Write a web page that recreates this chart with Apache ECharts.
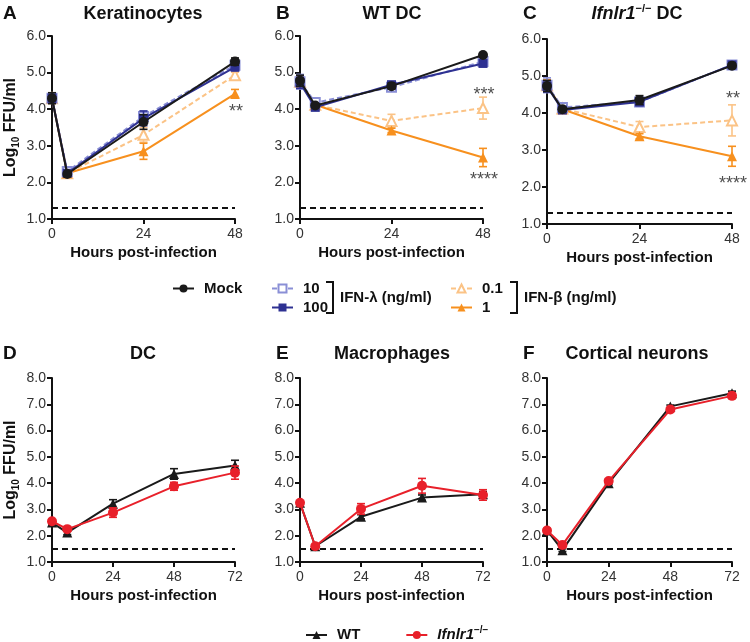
<!DOCTYPE html>
<html><head><meta charset="utf-8">
<script src="https://cdn.jsdelivr.net/npm/echarts@6/dist/echarts.min.js"></script>
<style>html,body{margin:0;padding:0;background:#fff}#c{width:750px;height:642px}</style>
</head><body><div id="c"></div>
<script>
// ---------- DATA ----------
const xRow1 = [0, 4, 24, 48];
const xRow2 = [0, 6, 24, 48, 72];
const yRange1 = [1, 6];
const yRange2 = [1, 8];
const xMax1 = 48, xMax2 = 72, xStep = 24;
const lod1 = 1.3, lod2 = 1.5;

const titlesTop = ['Keratinocytes', 'WT DC', 'Ifnlr1−/− DC'];
const titlesBottom = ['DC', 'Macrophages', 'Cortical neurons'];
const panelLetters = ['A', 'B', 'C', 'D', 'E', 'F'];

// Panel A – Keratinocytes
const aMock = [4.30, 2.23, 3.65, 5.30];   const aMockErr = [0.15, 0.04, 0.20, 0.10];
const aL10 = [4.30, 2.30, 3.80, 5.20];    const aL10Err = [0.10, 0.04, 0.15, 0.10];
const aL100 = [4.30, 2.25, 3.75, 5.15];   const aL100Err = [0.10, 0.04, 0.20, 0.10];
const aB01 = [4.30, 2.25, 3.30, 4.93];    const aB01Err = [0.10, 0.04, 0.20, 0.08];
const aB1 = [4.30, 2.25, 2.85, 4.42];     const aB1Err = [0.10, 0.04, 0.22, 0.12];
const aStars = [[48, 4.03, '**']];

// Panel B – WT DC
const bMock = [4.78, 4.10, 4.63, 5.48];   const bMockErr = [0.15, 0.05, 0.08, 0.05];
const bL10 = [4.75, 4.18, 4.60, 5.30];    const bL10Err = [0.20, 0.05, 0.08, 0.08];
const bL100 = [4.72, 4.05, 4.67, 5.25];   const bL100Err = [0.15, 0.05, 0.08, 0.06];
const bB01 = [4.75, 4.12, 3.68, 4.03];    const bB01Err = [0.15, 0.05, 0.18, 0.30];
const bB1 = [4.75, 4.12, 3.42, 2.68];     const bB1Err = [0.15, 0.05, 0.06, 0.25];
const bStars = [[48, 4.50, '***'], [48, 2.17, '****']];

// Panel C – Ifnlr1-/- DC
const cMock = [4.73, 4.10, 4.35, 5.28];   const cMockErr = [0.15, 0.05, 0.12, 0.06];
const cL10 = [4.75, 4.15, 4.30, 5.30];    const cL10Err = [0.20, 0.05, 0.12, 0.06];
const cL100 = [4.72, 4.08, 4.30, 5.30];   const cL100Err = [0.15, 0.05, 0.10, 0.06];
const cB01 = [4.75, 4.12, 3.62, 3.80];    const cB01Err = [0.15, 0.05, 0.15, 0.42];
const cB1 = [4.75, 4.10, 3.37, 2.83];     const cB1Err = [0.15, 0.05, 0.07, 0.27];
const cStars = [[48, 4.49, '**'], [48, 2.19, '****']];

// Panel D – DC
const dWT = [2.50, 2.12, 3.22, 4.35, 4.67]; const dWTErr = [0.05, 0.08, 0.15, 0.20, 0.20];
const dKO = [2.55, 2.25, 2.88, 3.88, 4.40]; const dKOErr = [0.05, 0.08, 0.18, 0.15, 0.25];
// Panel E – Macrophages
const eWT = [3.25, 1.60, 2.72, 3.45, 3.58]; const eWTErr = [0.05, 0.05, 0.08, 0.10, 0.10];
const eKO = [3.25, 1.60, 3.02, 3.90, 3.55]; const eKOErr = [0.05, 0.05, 0.20, 0.28, 0.20];
// Panel F – Cortical neurons
const fWT = [2.20, 1.45, 4.00, 6.92, 7.42]; const fWTErr = [0.05, 0.05, 0.05, 0.05, 0.08];
const fKO = [2.20, 1.65, 4.08, 6.80, 7.32]; const fKOErr = [0.08, 0.10, 0.08, 0.08, 0.10];

// ---------- STYLES ----------
const FONT = 'Liberation Sans, Arial, Helvetica, sans-serif';
const styles = {
  'Mock':   {symbol: 'circle', size: 10, color: '#1a1a1a', dash: 'solid'},
  '10':     {symbol: 'emptyRect', size: 9, color: '#8a8fd6', dash: [5, 3]},
  '100':    {symbol: 'rect', size: 9, color: '#2e3192', dash: 'solid'},
  '0.1':    {symbol: 'emptyTriangle', size: 10, color: '#fbc386', dash: [5, 3]},
  '1':      {symbol: 'triangle', size: 10, color: '#f7901e', dash: 'solid'},
  'WT':     {symbol: 'triangle', size: 10, color: '#1a1a1a', dash: 'solid'},
  'Ifnlr1': {symbol: 'circle', size: 10, color: '#e8202a', dash: 'solid'}
};
const grids = [
  {left: 51, top: 36, width: 184, height: 183},
  {left: 300, top: 36, width: 183, height: 183},
  {left: 547, top: 39, width: 185, height: 185},
  {left: 51, top: 378, width: 184, height: 184},
  {left: 300, top: 378, width: 183, height: 184},
  {left: 547, top: 378, width: 185, height: 184}
];

function lineSeries(name, gi, xs, ys, z) {
  const st = styles[name];
  const empty = String(st.symbol).indexOf('empty') === 0;
  return {
    type: 'line', name, xAxisIndex: gi, yAxisIndex: gi, z: z,
    data: xs.map((x, i) => [x, ys[i]]),
    symbol: st.symbol, symbolSize: st.size, showSymbol: true,
    itemStyle: {color: st.color, borderColor: st.color, borderWidth: empty ? 1.6 : 0},
    lineStyle: {color: st.color, width: 2, type: st.dash},
    emphasis: {disabled: true}
  };
}
function errSeries(gi, xs, ys, es, color, z) {
  return {
    type: 'custom', name: 'err', xAxisIndex: gi, yAxisIndex: gi, z: z,
    data: xs.map((x, i) => [x, ys[i] - es[i], ys[i] + es[i]]),
    encode: {x: 0, y: [1, 2]},
    renderItem: function (params, api) {
      const x = api.value(0);
      const lo = api.coord([x, api.value(1)]);
      const hi = api.coord([x, api.value(2)]);
      const w = 4;
      const st = {stroke: color, lineWidth: 1.6};
      return {type: 'group', children: [
        {type: 'line', shape: {x1: lo[0], y1: lo[1], x2: hi[0], y2: hi[1]}, style: st},
        {type: 'line', shape: {x1: lo[0] - w, y1: lo[1], x2: lo[0] + w, y2: lo[1]}, style: st},
        {type: 'line', shape: {x1: hi[0] - w, y1: hi[1], x2: hi[0] + w, y2: hi[1]}, style: st}
      ]};
    }
  };
}
function lodLine(gi, val) {
  return {
    type: 'line', name: 'lod', xAxisIndex: gi, yAxisIndex: gi, data: [], z: 1,
    markLine: {silent: true, symbol: 'none', animation: false,
      data: [{yAxis: val}], label: {show: false},
      lineStyle: {color: '#111', type: [6, 4], width: 2}}
  };
}
function starSeries(gi, stars) {
  return {
    type: 'scatter', name: 'sig', xAxisIndex: gi, yAxisIndex: gi, z: 10,
    symbolSize: 1, itemStyle: {color: 'rgba(0,0,0,0)'},
    data: stars.map(s => ({value: [s[0], s[1]], name: s[2]})),
    label: {show: true, position: 'inside', offset: [1, 4], formatter: '{b}', fontSize: 18, color: '#222', fontFamily: FONT}
  };
}

const series = [];
function topPanel(gi, d, stars) {
  series.push(lodLine(gi, lod1));
  const order = [['0.1', d.b01, d.b01e], ['1', d.b1, d.b1e], ['10', d.l10, d.l10e], ['100', d.l100, d.l100e], ['Mock', d.m, d.me]];
  order.forEach((o, k) => {
    series.push(errSeries(gi, xRow1, o[1], o[2], styles[o[0]].color, 2 + k * 2));
    series.push(lineSeries(o[0], gi, xRow1, o[1], 3 + k * 2));
  });
  series.push(starSeries(gi, stars));
}
function bottomPanel(gi, wt, wte, ko, koe) {
  series.push(lodLine(gi, lod2));
  series.push(errSeries(gi, xRow2, wt, wte, styles['WT'].color, 2));
  series.push(lineSeries('WT', gi, xRow2, wt, 3));
  series.push(errSeries(gi, xRow2, ko, koe, styles['Ifnlr1'].color, 4));
  series.push(lineSeries('Ifnlr1', gi, xRow2, ko, 5));
}
topPanel(0, {m: aMock, me: aMockErr, l10: aL10, l10e: aL10Err, l100: aL100, l100e: aL100Err, b01: aB01, b01e: aB01Err, b1: aB1, b1e: aB1Err}, aStars);
topPanel(1, {m: bMock, me: bMockErr, l10: bL10, l10e: bL10Err, l100: bL100, l100e: bL100Err, b01: bB01, b01e: bB01Err, b1: bB1, b1e: bB1Err}, bStars);
topPanel(2, {m: cMock, me: cMockErr, l10: cL10, l10e: cL10Err, l100: cL100, l100e: cL100Err, b01: cB01, b01e: cB01Err, b1: cB1, b1e: cB1Err}, cStars);
bottomPanel(3, dWT, dWTErr, dKO, dKOErr);
bottomPanel(4, eWT, eWTErr, eKO, eKOErr);
bottomPanel(5, fWT, fWTErr, fKO, fKOErr);

const axisLine = {show: true, lineStyle: {color: '#111', width: 2}};
const axisTick = {show: true, length: 5, lineStyle: {color: '#111', width: 2}};
const axisLabel = {color: '#333', fontSize: 14, fontFamily: FONT};

const xAxes = grids.map((g, i) => ({
  gridIndex: i, type: 'value', min: 0, max: i < 3 ? xMax1 : xMax2, interval: xStep,
  axisLine, axisTick, axisLabel: Object.assign({margin: 8}, axisLabel), splitLine: {show: false},
  name: 'Hours post-infection', nameLocation: 'middle', nameGap: 26,
  nameTextStyle: {fontSize: 15, fontWeight: 'bold', color: '#111', fontFamily: FONT}
}));
const yAxes = grids.map((g, i) => {
  const r = i < 3 ? yRange1 : yRange2;
  const ax = {
    gridIndex: i, type: 'value', min: r[0], max: r[1], interval: 1,
    axisLine, axisTick, axisLabel: Object.assign({margin: 6, formatter: v => v.toFixed(1)}, axisLabel),
    splitLine: {show: false}
  };
  if (i === 0 || i === 3) {
    ax.name = 'Log{s|10} FFU/ml';
    ax.nameLocation = 'middle';
    ax.nameGap = 31;
    ax.nameTextStyle = {fontSize: 16, fontWeight: 'bold', color: '#111', fontFamily: FONT, lineHeight: 20,
      rich: {s: {fontSize: 10, fontWeight: 'bold', color: '#111', fontFamily: FONT, lineHeight: 12, verticalAlign: 'bottom'}}};
  }
  return ax;
});

const legText = {fontSize: 15, fontWeight: 'bold', color: '#111', fontFamily: FONT, padding: [0, 0, 0, 5]};
function leg(name, left, top) {
  return {data: [name], left, top, padding: 0, itemWidth: 21, itemHeight: 10, selectedMode: false, textStyle: legText};
}
const legends = [
  leg('Mock', 172, 281), leg('10', 271, 281), leg('100', 271, 300), leg('0.1', 450, 281), leg('1', 450, 300),
  {data: ['WT', 'Ifnlr1'], left: 305, top: 625, padding: 0, itemWidth: 21, itemHeight: 10, itemGap: 45,
   selectedMode: false, textStyle: Object.assign({}, legText, {rich: {
     i: {fontSize: 15, fontWeight: 'bold', fontStyle: 'italic', color: '#111', fontFamily: FONT, lineHeight: 20},
     p: {fontSize: 10, fontWeight: 'bold', color: '#111', fontFamily: FONT, lineHeight: 12, verticalAlign: 'top'}}}),
   formatter: n => n === 'Ifnlr1' ? '{i|Ifnlr1}{p|−/−}' : n}
];

const titleFont = 'bold 18px ' + FONT;
const titleRich = {
  i: {font: 'italic bold 18px ' + FONT, fill: '#111', lineHeight: 22},
  p: {font: 'bold 11px ' + FONT, fill: '#111', lineHeight: 12, verticalAlign: 'top'},
  n: {font: titleFont, fill: '#111', lineHeight: 22}
};
const graphics = [];
const letterPos = [[3, 14], [276, 14], [523, 14], [3, 354], [276, 354], [523, 354]];
panelLetters.forEach((l, i) => graphics.push({type: 'text', x: letterPos[i][0], y: letterPos[i][1],
  style: {text: l, font: 'bold 19px ' + FONT, fill: '#111', verticalAlign: 'middle', align: 'left'}}));
const titleCx = [143, 392, 637];
titlesTop.forEach((t, i) => {
  let txt = t;
  if (t.indexOf('Ifnlr1') === 0) txt = '{i|Ifnlr1}{p|−/−}{n| DC}';
  graphics.push({type: 'text', x: titleCx[i], y: 14,
    style: {text: txt, font: titleFont, fill: '#111', align: 'center', verticalAlign: 'middle', rich: titleRich}});
});
titlesBottom.forEach((t, i) => graphics.push({type: 'text', x: titleCx[i], y: 354,
  style: {text: t, font: titleFont, fill: '#111', align: 'center', verticalAlign: 'middle'}}));
// legend brackets and group labels
[[326, 'IFN-λ (ng/ml)'], [510, 'IFN-β (ng/ml)']].forEach(b => {
  graphics.push({type: 'polyline', shape: {points: [[b[0], 282], [b[0] + 7, 282], [b[0] + 7, 313], [b[0], 313]]},
    style: {stroke: '#111', lineWidth: 2, fill: null}});
  graphics.push({type: 'text', x: b[0] + 14, y: 298,
    style: {text: b[1], font: 'bold 15px ' + FONT, fill: '#111', verticalAlign: 'middle', align: 'left'}});
});

const chart = echarts.init(document.getElementById('c'), null, {renderer: 'canvas'});
chart.setOption({
  animation: false,
  backgroundColor: '#fff',
  textStyle: {fontFamily: FONT},
  grid: grids,
  xAxis: xAxes,
  yAxis: yAxes,
  legend: legends,
  graphic: graphics,
  series: series
});
</script></body></html>
